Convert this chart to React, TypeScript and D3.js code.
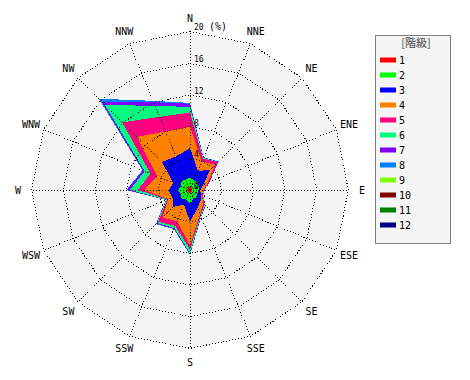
import React from 'react';
import * as d3 from 'd3';

const directions = ['N', 'NNE', 'NE', 'ENE', 'E', 'ESE', 'SE', 'SSE', 'S', 'SSW', 'SW', 'WSW', 'W', 'WNW', 'NW', 'NNW'];
const classLabels = ['1', '2', '3', '4', '5', '6', '7', '8', '9', '10', '11', '12'];
const classColors = ['#ff0000', '#00ff00', '#0000ff', '#ff8000', '#ff0080', '#00ff80', '#8000ff', '#0080ff', '#80ff00', '#800000', '#008000', '#000080'];

// frequency (%) per class, per direction (N .. NNW)
const class1 = [0.4, 0.3, 0.5, 0.3, 0.3, 0.3, 0.3, 0.3, 0.4, 0.3, 0.4, 0.3, 0.4, 0.3, 0.4, 0.4];
const class2 = [1.2, 1.0, 0.9, 0.9, 0.8, 0.7, 0.9, 0.9, 1.3, 1.0, 1.1, 1.0, 1.1, 0.9, 1.2, 1.0];
const class3 = [3.7, 1.3, 2.2, 0.6, 0.2, 0.5, 0.7, 1.3, 2.3, 0.7, 1.5, 1.1, 1.2, 1.1, 3.4, 3.2];
const class4 = [2.7, 1.3, 0.9, 0.6, 0.4, 0.1, 0.5, 0.8, 3.0, 2.3, 1.9, 0.6, 3.1, 2.2, 4.5, 3.4];
const class5 = [1.8, 0.4, 0.5, 0.2, 0.1, 0.1, 0.2, 0.2, 0.5, 0.6, 0.8, 0.1, 0.8, 0.9, 2.6, 2.0];
const class6 = [0.7, 0.1, 0.0, 0.05, 0.05, 0.05, 0.1, 0.1, 0.5, 0.3, 0.2, 0.1, 1.0, 0.8, 3.1, 1.5];
const class7 = [0.4, 0.05, 0.05, 0.05, 0.05, 0.05, 0.05, 0.05, 0.1, 0.1, 0.1, 0.05, 0.4, 0.2, 0.6, 0.5];
const class8 = [0.1, 0.05, 0.05, 0, 0, 0, 0.05, 0.05, 0.1, 0.05, 0.1, 0.05, 0.05, 0.1, 0.5, 0.2];
const class9 = [0, 0, 0, 0, 0, 0, 0, 0, 0, 0, 0, 0, 0, 0, 0, 0];
const class10 = [0, 0, 0, 0, 0, 0, 0, 0, 0, 0, 0, 0, 0, 0, 0, 0];
const class11 = [0, 0, 0, 0, 0, 0, 0, 0, 0, 0, 0, 0, 0, 0, 0, 0];
const class12 = [0, 0, 0, 0, 0, 0, 0, 0, 0, 0, 0, 0, 0, 0, 0, 0];

const ringTicks = [4, 8, 12, 16, 20];
const ringLabels = ['0', '4', '8', '12', '16'];

export default function App() {
  const cx = 190;
  const cy = 190;
  const rScale = d3.scaleLinear().domain([0, 20]).range([0, 158.3]);
  const aScale = d3.scaleLinear().domain([0, directions.length]).range([0, 2 * Math.PI]);

  const series = [class1, class2, class3, class4, class5, class6, class7, class8, class9, class10, class11, class12];
  const rows = directions.map((d, i) => {
    const o: any = { dir: d };
    classLabels.forEach((k, j) => (o[k] = series[j][i]));
    return o;
  });
  const stacked = d3.stack<any>().keys(classLabels)(rows);

  const areaLine = d3
    .lineRadial<any>()
    .angle((_d: any, i: number) => aScale(i))
    .radius((d: any) => rScale(d[1]))
    .curve(d3.curveLinearClosed);

  const ringLine = (v: number) =>
    d3
      .lineRadial<string>()
      .angle((_d, i) => aScale(i))
      .radius(() => rScale(v))
      .curve(d3.curveLinearClosed)(directions) as string;

  const pt = (i: number, rad: number) => {
    const a = aScale(i);
    return [rad * Math.sin(a), -rad * Math.cos(a)];
  };

  const mono = '"DejaVu Sans Mono", monospace';

  return (
    <svg
      width={470}
      height={380}
      style={{ position: 'absolute', left: 0, top: 0, background: '#ffffff' }}
    >
      <rect x={0} y={0} width={470} height={380} fill="#ffffff" />
      <g transform={`translate(${cx},${cy})`}>
        <path d={ringLine(20)} fill="#f5f5f5" stroke="none" />
        {stacked
          .slice()
          .reverse()
          .map((s, idx) => {
            const ci = classLabels.length - 1 - idx;
            return (
              <path
                key={s.key}
                d={areaLine(s as any) as string}
                fill={classColors[ci]}
                stroke="none"
                shapeRendering="crispEdges"
              />
            );
          })}
        {ringTicks.map((t) => (
          <path
            key={'ring' + t}
            d={ringLine(t)}
            fill="none"
            stroke="#000"
            strokeWidth={1}
            strokeDasharray="1,2"
            shapeRendering="crispEdges"
          />
        ))}
        {directions.map((d, i) => {
          const [x, y] = pt(i, rScale(20));
          return (
            <line
              key={'sp' + d}
              x1={0}
              y1={0}
              x2={x}
              y2={y}
              stroke="#000"
              strokeWidth={1}
              strokeDasharray="1,2"
              shapeRendering="crispEdges"
            />
          );
        })}
        {ringLabels.map((l, i) => (
          <text
            key={'rl' + l}
            x={4}
            y={-rScale(i * 4) - 1}
            fontFamily={mono}
            fontSize={8}
            fill="#000"
          >
            {l}
          </text>
        ))}
        <text x={4} y={-rScale(20) - 2} fontFamily={mono} fontSize={8} fill="#000">
          20
        </text>
        <text x={19} y={-rScale(20) - 2} fontFamily={mono} fontSize={10} fill="#000">
          (%)
        </text>
        {directions.map((d, i) => {
          const [x, y] = pt(i, 172);
          return (
            <text
              key={'dl' + d}
              x={x}
              y={y}
              dy="0.35em"
              textAnchor="middle"
              fontFamily={mono}
              fontSize={10}
              fill="#000"
            >
              {d}
            </text>
          );
        })}
      </g>
      <g>
        <rect
          x={375.5}
          y={35.5}
          width={75}
          height={208}
          fill="#f5f5f5"
          stroke="#000"
          strokeWidth={1}
          strokeDasharray="1,1"
        />
        <text
          x={416}
          y={43}
          dy="0.35em"
          textAnchor="middle"
          fontFamily='"Noto Sans CJK JP", sans-serif'
          fontSize={11}
          fill="#444"
        >
          [階級]
        </text>
        {classLabels.map((c, i) => (
          <g key={'lg' + c} transform={`translate(380,${60 + i * 15})`}>
            <rect x={0} y={-2.5} width={16} height={5} fill={classColors[i]} />
            <text x={19} y={0} dy="0.35em" fontFamily={mono} fontSize={10} fill="#000">
              {c}
            </text>
          </g>
        ))}
      </g>
    </svg>
  );
}
